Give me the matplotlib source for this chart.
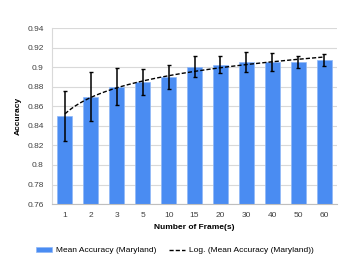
import numpy as np
import matplotlib.pyplot as plt
from matplotlib.ticker import FuncFormatter

plt.rcParams['font.family'] = ['Liberation Sans', 'DejaVu Sans']

# Data
frames = ['1', '2', '3', '5', '10', '15', '20', '30', '40', '50', '60']
mean_acc = [0.850, 0.870, 0.880, 0.885, 0.890, 0.900, 0.902, 0.905, 0.905, 0.905, 0.907]
err_low = [0.825, 0.845, 0.861, 0.872, 0.878, 0.890, 0.894, 0.895, 0.896, 0.899, 0.901]
err_high = [0.876, 0.895, 0.899, 0.898, 0.902, 0.911, 0.911, 0.915, 0.914, 0.911, 0.913]

x = np.arange(1, len(frames) + 1)
acc = np.array(mean_acc)
yerr = [acc - np.array(err_low), np.array(err_high) - acc]

# Excel-style log trendline over category index
a, b = np.polyfit(np.log(x), acc, 1)
xt = np.linspace(1, len(frames), 200)
yt = a * np.log(xt) + b

fig = plt.figure(figsize=(3.49, 2.62), dpi=100)
ax = fig.add_axes([0.149, 0.221, 0.817, 0.672])

bars = ax.bar(x, acc, width=0.58, color='#4a8cf2', edgecolor='#8fb8f7', linewidth=0.5,
              label='Mean Accuracy (Maryland)', zorder=2)
ax.errorbar(x, acc, yerr=yerr, fmt='none', ecolor='black', elinewidth=1.1,
            capsize=1.5, capthick=1.0, zorder=3)
trend, = ax.plot(xt, yt, color='black', linestyle=(0, (3, 1.5)), linewidth=1.0,
                 label='Log. (Mean Accuracy (Maryland))', zorder=4)

ax.set_ylim(0.76, 0.94)
ax.set_yticks(np.arange(0.76, 0.9401, 0.02))
ax.yaxis.set_major_formatter(FuncFormatter(lambda v, p: '%g' % round(v, 2)))
ax.set_xlim(0.5, len(frames) + 0.5)
ax.set_xticks(x)
ax.set_xticklabels(frames)

ax.grid(axis='y', color='#d9d9d9', linewidth=0.8, zorder=0)
ax.set_axisbelow(True)
for s in ['top', 'right']:
    ax.spines[s].set_visible(False)
ax.spines['left'].set_color('#d9d9d9')
ax.spines['bottom'].set_color('#bfbfbf')
ax.tick_params(length=0, labelsize=6, colors='#404040', pad=6)

ax.set_xlabel('Number of Frame(s)', fontsize=6, fontweight='bold', labelpad=3)
ax.set_ylabel('Accuracy', fontsize=6, fontweight='bold', labelpad=4)

ax.legend([bars, trend], ['Mean Accuracy (Maryland)', 'Log. (Mean Accuracy (Maryland))'],
          loc='upper center', bbox_to_anchor=(0.43, -0.2), ncol=2, frameon=False,
          fontsize=6, handlelength=2.0, handleheight=0.6, columnspacing=1.5,
          handletextpad=0.4)

fig.savefig('out.png', dpi=100)
